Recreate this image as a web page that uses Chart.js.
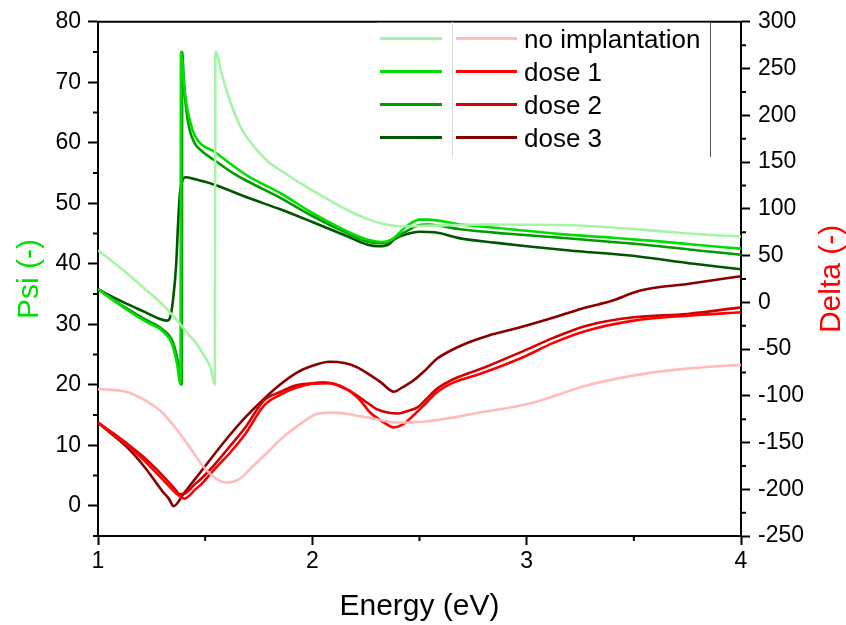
<!DOCTYPE html>
<html>
<head>
<meta charset="utf-8">
<script src="https://cdn.jsdelivr.net/npm/chart.js@4.4.1/dist/chart.umd.min.js"></script>
<style>
  html, body { margin: 0; padding: 0; background: #fff; }
  #wrap { width: 846px; height: 625px; }
</style>
</head>
<body>
<div id="wrap"><canvas id="grafico"></canvas></div>
<script>
const FUENTE = "'Liberation Sans', Arial, sans-serif";

// etiquetas
const nombres = ['no implantation', 'dose 1', 'dose 2', 'dose 3'];

// Psi (eje izquierdo)
const ePsi0 = [1.00,1.07,1.143,1.22,1.30,1.36,1.423,1.47,1.50,1.525,1.545,1.548,1.58,1.62,1.67,1.73,1.79,1.87,1.94,2.02,2.10,2.18,2.25,2.33,2.41,2.55,2.80,3.16,3.40,3.62,3.80,4.00];
const psi0  = [42.2,40.3,38.2,35.8,33.3,31.0,28.3,26.3,24.5,22.8,20.0,75.0,71.0,66.5,62.3,59.3,57.0,55.0,53.4,51.7,50.1,48.6,47.5,46.6,46.2,46.3,46.5,46.4,46.0,45.4,44.9,44.5];

const ePsi1 = [1.00,1.07,1.14,1.22,1.30,1.346,1.369,1.385,1.387,1.398,1.41,1.43,1.45,1.48,1.54,1.63,1.70,1.85,2.00,2.16,2.255,2.32,2.37,2.44,2.50,2.54,2.69,2.90,3.16,3.40,3.62,3.80,4.00];
const psi1  = [35.8,34.0,32.3,30.5,28.9,26.7,23.4,20.0,75.0,71.0,67.0,63.5,61.3,59.8,58.6,56.2,54.5,51.7,48.4,45.4,44.0,43.6,44.0,46.2,47.3,47.3,46.5,45.8,44.9,44.3,43.7,43.1,42.5];

const ePsi2 = [1.00,1.07,1.14,1.22,1.30,1.35,1.375,1.391,1.393,1.40,1.41,1.425,1.45,1.485,1.54,1.63,1.70,1.85,2.00,2.16,2.255,2.33,2.38,2.44,2.50,2.54,2.69,2.90,3.16,3.40,3.62,3.80,4.00];
const psi2  = [35.8,34.1,32.5,30.8,29.2,27.0,23.5,20.0,75.0,70.5,66.0,62.5,60.0,58.6,57.2,55.0,53.6,50.9,47.9,45.1,43.7,43.4,44.2,45.4,46.4,46.5,45.7,45.0,44.3,43.6,42.9,42.2,41.5];

const ePsi3 = [1.00,1.07,1.14,1.22,1.28,1.32,1.335,1.35,1.365,1.372,1.382,1.392,1.41,1.45,1.54,1.70,1.85,2.00,2.16,2.255,2.31,2.36,2.38,2.45,2.50,2.57,2.69,2.85,3.00,3.20,3.47,3.78,4.00];
const psi3  = [35.8,34.5,33.3,32.0,31.0,30.6,31.0,34.0,40.0,45.4,51.5,53.6,54.3,54.0,53.1,50.9,49.0,46.9,44.6,43.2,42.9,43.3,44.0,45.0,45.3,45.2,44.2,43.5,42.9,42.2,41.4,40.0,39.1];

// Delta (eje derecho)
const eDel0 = [1.00,1.06,1.143,1.22,1.30,1.36,1.423,1.50,1.56,1.60,1.66,1.72,1.79,1.85,1.91,1.97,2.02,2.10,2.25,2.40,2.55,2.78,3.02,3.28,3.59,3.80,4.00];
const del0  = [-93,-93.5,-96.5,-105,-118,-134,-153.6,-178,-190,-193,-189,-176,-160.7,-147,-135.7,-126,-119.6,-118,-123,-128.6,-127,-118,-108,-89,-75,-70,-67];

const eDel1 = [1.00,1.07,1.14,1.21,1.27,1.32,1.36,1.385,1.405,1.43,1.45,1.48,1.55,1.617,1.687,1.773,1.85,1.93,2.05,2.16,2.22,2.27,2.33,2.38,2.42,2.47,2.53,2.58,2.66,2.78,2.98,3.13,3.28,3.50,3.75,4.00];
const del1  = [-128.6,-141,-153.6,-168,-182,-194,-203.6,-208,-210,-206,-201,-195,-177,-160.7,-141,-110.7,-99,-91,-85.7,-92.9,-104,-117.9,-128,-133.9,-131,-121.4,-108,-96.4,-85.7,-76.8,-59,-42.9,-30.4,-19.6,-14.3,-10.7];

const eDel2 = [1.00,1.07,1.14,1.21,1.27,1.32,1.36,1.38,1.40,1.43,1.45,1.48,1.55,1.617,1.687,1.773,1.85,1.93,2.08,2.16,2.21,2.26,2.30,2.35,2.40,2.45,2.49,2.53,2.58,2.66,2.80,2.97,3.13,3.28,3.50,3.75,4.00];
const del2  = [-128.6,-140,-152,-165,-178,-190,-200,-205,-205,-200,-195,-189,-172,-153.6,-134,-105.4,-96,-88.6,-86.5,-93,-100,-108,-114.3,-118,-119,-116,-112.5,-104,-92.9,-82.1,-70,-53.6,-37.5,-25,-16.1,-12.5,-5.4];

const eDel3 = [1.00,1.07,1.14,1.22,1.30,1.33,1.353,1.40,1.477,1.609,1.687,1.773,1.85,1.93,2.00,2.08,2.15,2.21,2.27,2.32,2.38,2.42,2.47,2.53,2.58,2.66,2.74,2.82,2.97,3.13,3.28,3.39,3.53,3.75,4.00];
const del3  = [-128.6,-142,-156,-177,-202,-210,-218,-204.6,-182,-143.6,-123.2,-103.6,-88,-75,-68,-63.6,-65,-69.6,-78,-85.7,-95.7,-91,-84,-72,-60.7,-50,-42,-35.7,-26.8,-16.1,-5.4,1,12.5,19.6,27.9];

// colores
const verdes = ['#a6f5a6', '#00dd00', '#009c00', '#005500'];
const rojos  = ['#ffbcbc', '#ff0000', '#d20000', '#8a0000'];

const xy = (xs, ys) => xs.map((x, i) => ({x: x, y: ys[i]}));

const psiE = [ePsi0, ePsi1, ePsi2, ePsi3];
const psiV = [psi0, psi1, psi2, psi3];
const delE = [eDel0, eDel1, eDel2, eDel3];
const delV = [del0, del1, del2, del3];

const datasets = [];
for (let i = 0; i < 4; i++) {
  datasets.push({
    label: 'Psi ' + nombres[i],
    data: xy(psiE[i], psiV[i]),
    yAxisID: 'y',
    borderColor: verdes[i],
    backgroundColor: verdes[i],
    borderWidth: 2.6,
    pointRadius: 0,
    cubicInterpolationMode: 'monotone'
  });
}
for (let i = 0; i < 4; i++) {
  datasets.push({
    label: 'Delta ' + nombres[i],
    data: xy(delE[i], delV[i]),
    yAxisID: 'y2',
    borderColor: rojos[i],
    backgroundColor: rojos[i],
    borderWidth: 2.6,
    pointRadius: 0,
    cubicInterpolationMode: 'monotone'
  });
}

const cerca = (v, paso) => Math.abs(v / paso - Math.round(v / paso)) < 1e-6;

// marcas menores, marco superior, leyenda y titulo derecho
const decoraciones = {
  id: 'decoraciones',
  afterDraw(chart) {
    const ctx = chart.ctx, a = chart.chartArea;
    const sx = chart.scales.x, sy = chart.scales.y, sy2 = chart.scales.y2;
    ctx.save();
    ctx.strokeStyle = '#000';
    ctx.lineWidth = 2;
    ctx.beginPath();
    ctx.moveTo(a.left - 1, a.top); ctx.lineTo(a.right + 1, a.top);
    sx.ticks.forEach(t => {
      if (!cerca(t.value, 1)) {
        const p = sx.getPixelForValue(t.value);
        ctx.moveTo(p, a.bottom); ctx.lineTo(p, a.bottom + 5);
      }
    });
    sy.ticks.forEach(t => {
      if (!cerca(t.value, 10)) {
        const p = sy.getPixelForValue(t.value);
        ctx.moveTo(a.left, p); ctx.lineTo(a.left - 5, p);
      }
    });
    sy2.ticks.forEach(t => {
      if (!cerca(t.value, 50)) {
        const p = sy2.getPixelForValue(t.value);
        ctx.moveTo(a.right, p); ctx.lineTo(a.right + 5, p);
      }
    });
    ctx.stroke();

    // leyenda
    const lx = 377, lw = 333, lh = 135;
    ctx.fillStyle = '#fff';
    ctx.fillRect(lx, a.top + 1, lw, lh);
    ctx.lineWidth = 1;
    ctx.strokeStyle = '#d8d8d8';
    ctx.beginPath(); ctx.moveTo(452.5, a.top); ctx.lineTo(452.5, a.top + lh); ctx.stroke();
    ctx.strokeStyle = '#555';
    ctx.beginPath(); ctx.moveTo(710.5, a.top); ctx.lineTo(710.5, a.top + lh); ctx.stroke();
    const filas = [38.5, 71.5, 104.5, 137.5];
    ctx.font = '26px ' + FUENTE;
    ctx.textBaseline = 'alphabetic';
    ctx.textAlign = 'left';
    ctx.lineWidth = 3;
    for (let i = 0; i < 4; i++) {
      const y = filas[i];
      ctx.strokeStyle = verdes[i];
      ctx.beginPath(); ctx.moveTo(380, y); ctx.lineTo(442, y); ctx.stroke();
      ctx.strokeStyle = rojos[i];
      ctx.beginPath(); ctx.moveTo(456, y); ctx.lineTo(517, y); ctx.stroke();
      ctx.fillStyle = '#000';
      ctx.fillText(nombres[i], 524, y + 9);
    }

    // titulo del eje derecho, leido de abajo hacia arriba
    ctx.translate(840, (a.top + a.bottom) / 2);
    ctx.rotate(-Math.PI / 2);
    ctx.font = '30px ' + FUENTE;
    ctx.fillStyle = '#ff0000';
    ctx.textAlign = 'center';
    ctx.textBaseline = 'alphabetic';
    ctx.fillText('Delta (-)', 0, 0);
    ctx.restore();
  }
};

const fuenteTicks = {family: FUENTE, size: 23};

new Chart(document.getElementById('grafico'), {
  type: 'line',
  data: {datasets: datasets},
  plugins: [decoraciones],
  options: {
    responsive: true,
    maintainAspectRatio: false,
    animation: false,
    devicePixelRatio: 1,
    layout: {padding: {top: 20, left: 0, right: 0, bottom: 0}},
    plugins: {legend: {display: false}, tooltip: {enabled: false}},
    scales: {
      x: {
        type: 'linear',
        min: 1, max: 4,
        afterFit: s => { s.height = 89; },
        border: {display: true, color: '#000', width: 2},
        grid: {drawOnChartArea: false, tickLength: 9, tickWidth: 2,
               tickColor: c => cerca(c.tick.value, 1) ? '#000' : 'rgba(0,0,0,0)'},
        ticks: {stepSize: 0.5, autoSkip: false, maxRotation: 0, padding: 3,
                color: '#000', font: fuenteTicks,
                callback: v => cerca(v, 1) ? String(Math.round(v)) : ''},
        title: {display: true, text: 'Energy (eV)', color: '#000',
                font: {family: FUENTE, size: 30}, padding: {top: 0, bottom: 0}}
      },
      y: {
        type: 'linear',
        position: 'left',
        min: -5, max: 80,
        afterFit: s => { s.width = 98; },
        border: {display: true, color: '#000', width: 2},
        grid: {drawOnChartArea: false, tickLength: 10, tickWidth: 2,
               tickColor: c => cerca(c.tick.value, 10) ? '#000' : 'rgba(0,0,0,0)'},
        ticks: {stepSize: 5, autoSkip: false, padding: 7, color: '#000', font: fuenteTicks,
                callback: v => cerca(v, 10) ? String(v) : ''},
        title: {display: true, text: 'Psi (-)', color: '#00dd00',
                font: {family: FUENTE, size: 30}, padding: {top: 12, bottom: 0}}
      },
      y2: {
        type: 'linear',
        position: 'right',
        min: -250, max: 300,
        afterFit: s => { s.width = 105; },
        border: {display: true, color: '#000', width: 2},
        grid: {drawOnChartArea: false, tickLength: 9, tickWidth: 2,
               tickColor: c => cerca(c.tick.value, 50) ? '#000' : 'rgba(0,0,0,0)'},
        ticks: {stepSize: 25, autoSkip: false, padding: 8, color: '#000', font: fuenteTicks,
                callback: v => cerca(v, 50) ? String(v) : ''}
      }
    }
  }
});
</script>
</body>
</html>
